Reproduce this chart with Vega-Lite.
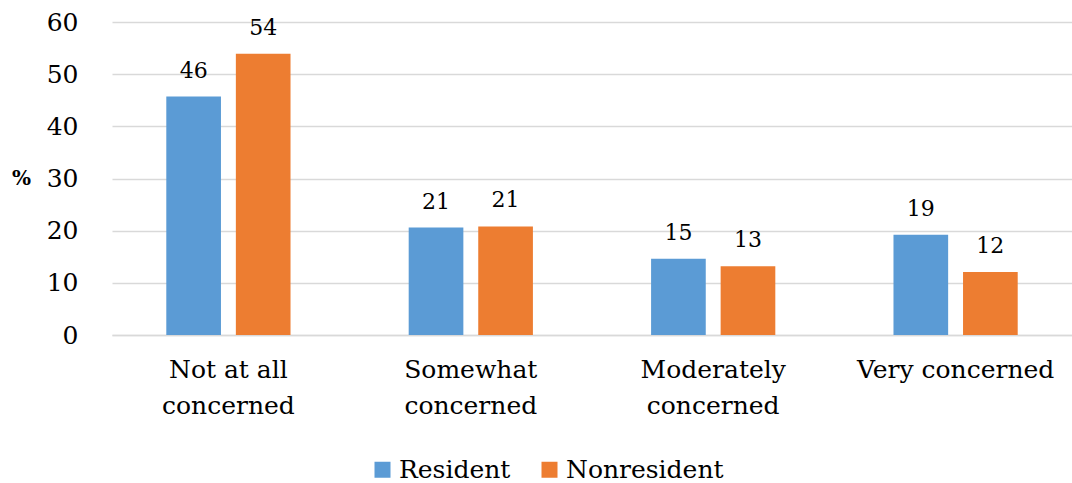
{
  "$schema": "https://vega.github.io/schema/vega-lite/v6.json",
  "autosize": "none",
  "width": 960,
  "height": 313,
  "padding": {"left": 112, "top": 22, "right": 0, "bottom": 148},
  "background": "white",
  "config": {
    "font": "DejaVu Serif",
    "view": {"stroke": null}
  },
  "data": {
    "values": [
      {"concern": "Not at all concerned", "group": "Resident", "pct": 45.7},
      {"concern": "Not at all concerned", "group": "Nonresident", "pct": 53.9},
      {"concern": "Somewhat concerned", "group": "Resident", "pct": 20.6},
      {"concern": "Somewhat concerned", "group": "Nonresident", "pct": 20.8},
      {"concern": "Moderately concerned", "group": "Resident", "pct": 14.6},
      {"concern": "Moderately concerned", "group": "Nonresident", "pct": 13.2},
      {"concern": "Very concerned", "group": "Resident", "pct": 19.2},
      {"concern": "Very concerned", "group": "Nonresident", "pct": 12.1}
    ]
  },
  "encoding": {
    "x": {
      "field": "concern",
      "type": "nominal",
      "sort": ["Not at all concerned", "Somewhat concerned", "Moderately concerned", "Very concerned"],
      "scale": {"paddingInner": 0.4875, "paddingOuter": 0.224},
      "axis": {
        "title": null,
        "labelAngle": 0,
        "labelFont": "DejaVu Serif",
        "labelFontSize": 25,
        "labelPadding": 22,
        "labelLineHeight": 36,
        "labelBaseline": "top",
        "labelLimit": 0,
        "labelColor": "#000",
        "ticks": false,
        "grid": false,
        "domainColor": "#d9d9d9",
        "domainWidth": 1.5,
        "labelExpr": "datum.value == 'Not at all concerned' ? ['Not at all', 'concerned'] : datum.value == 'Somewhat concerned' ? ['Somewhat', 'concerned'] : datum.value == 'Moderately concerned' ? ['Moderately', 'concerned'] : datum.value"
      }
    },
    "xOffset": {
      "field": "group",
      "type": "nominal",
      "sort": ["Resident", "Nonresident"],
      "scale": {"paddingInner": 0.214, "paddingOuter": 0}
    },
    "y": {
      "field": "pct",
      "type": "quantitative",
      "scale": {"domain": [0, 60], "nice": false},
      "axis": {
        "title": "%",
        "titleFont": "DejaVu Serif",
        "titleAngle": 0,
        "titleFontWeight": "bold",
        "titleFontSize": 20,
        "titleX": -91,
        "titleY": 156,
        "titleAlign": "center",
        "titleBaseline": "middle",
        "titleColor": "#000",
        "values": [0, 10, 20, 30, 40, 50, 60],
        "labelFont": "DejaVu Serif",
        "labelFontSize": 25,
        "labelPadding": 34,
        "labelColor": "#000",
        "ticks": false,
        "domain": false,
        "gridColor": "#d9d9d9",
        "gridWidth": 1.3
      }
    }
  },
  "layer": [
    {
      "mark": {"type": "bar"},
      "encoding": {
        "color": {
          "field": "group",
          "type": "nominal",
          "sort": ["Resident", "Nonresident"],
          "scale": {"domain": ["Resident", "Nonresident"], "range": ["#5B9BD5", "#ED7D31"]},
          "legend": {
            "orient": "none",
            "legendX": 258,
            "legendY": 435,
            "direction": "horizontal",
            "title": null,
            "symbolType": "square",
            "symbolSize": 256,
            "symbolStrokeWidth": 0,
            "labelFont": "DejaVu Serif",
            "labelFontSize": 25,
            "labelOffset": 4,
            "labelColor": "#000",
            "columnPadding": 26
          }
        }
      }
    },
    {
      "mark": {"type": "text", "font": "DejaVu Serif", "baseline": "bottom", "dy": -14, "fontSize": 22, "color": "#000"},
      "encoding": {
        "text": {"field": "pct", "type": "quantitative", "format": ".0f"}
      }
    }
  ]
}
